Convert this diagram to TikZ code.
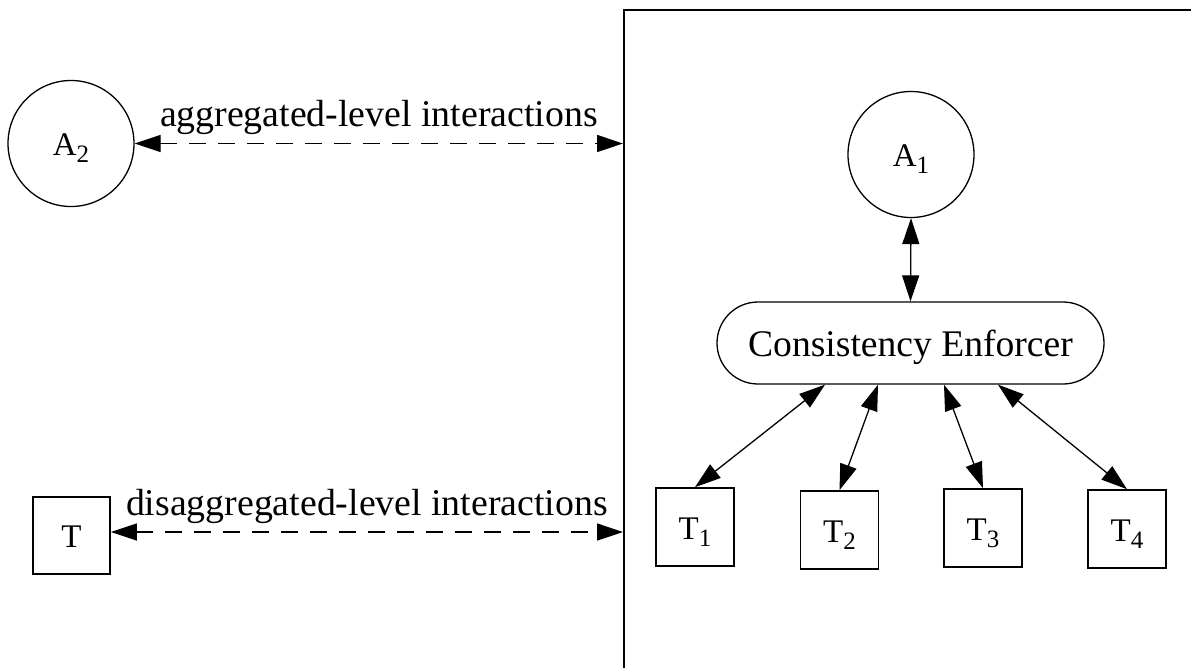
\documentclass[tikz,border=0pt]{standalone}
\usepackage{fontspec}
\setmainfont{Liberation Serif}
\usetikzlibrary{arrows.meta,calc}
\newcommand{\lsub}[1]{\raisebox{-7pt}{\fontsize{25}{25}\selectfont #1}}
\begin{document}
\begin{tikzpicture}[x=1pt,y=-1pt,
  >={Triangle[length=26pt,width=17pt]},
  agent/.style={draw, circle, minimum size=126pt, inner sep=0pt, line width=1.3pt,
    font=\fontsize{33}{36}\selectfont, text height=24pt, text depth=0pt},
  task/.style={draw, rectangle, minimum width=78pt, minimum height=78pt, inner sep=0pt,
    line width=1.6pt, font=\fontsize{33}{36}\selectfont, text height=24pt, text depth=0pt},
  enforcer/.style={draw, rectangle, rounded corners=41pt, minimum width=387pt, minimum height=82pt,
    inner sep=0pt, line width=1.3pt, font=\fontsize{37.6}{44}\selectfont, text height=26pt, text depth=0pt},
  frame/.style={draw, rectangle, line width=1.8pt, minimum width=640pt, minimum height=700pt,
    inner sep=0pt, anchor=north west},
  link/.style={<->, line width=1.3pt},
  dlink/.style={link, dash pattern=on 17pt off 12pt},
  lbl/.style={font=\fontsize{37.8}{44}\selectfont, anchor=base, inner sep=0pt}
]
\path[use as bounding box] (0,0) rectangle (1191,667);
\clip (0,0) rectangle (1191,667);

\node[frame] (frame) at (623,9) {};
\node[agent] (a2) at (71,143.5) {A\lsub{2}};
\node[task, minimum width=77pt, minimum height=77pt] (t) at (71.5,535.5) {T};

\node[agent] (a1) at (911,154.5) {A\lsub{1}};
\node[enforcer] (ce) at (910.5,343) {Consistency Enforcer};
\node[task] (t1) at (695,527) {T\lsub{1}};
\node[task] (t2) at (839.5,530) {T\lsub{2}};
\node[task] (t3) at (983,528) {T\lsub{3}};
\node[task] (t4) at (1127,529) {T\lsub{4}};

\draw[dlink] (a2.east) -- (a2.east -| frame.west)
  node[lbl, midway, yshift=17.5pt] {aggregated-level interactions};
\coordinate (tp) at ([yshift=3.5pt]t.east);
\draw[dlink] (tp) -- (tp -| frame.west)
  node[lbl, midway, yshift=17pt] {disaggregated-level interactions};

\draw[link] (a1.south) -- (ce.north);
\draw[link] ($(ce.south)+(-85.5,0)$) -- (t1.north);
\draw[link] ($(ce.south)+(-32.5,0)$) -- (t2.north);
\draw[link] ($(ce.south)+(33.5,0)$) -- (t3.north);
\draw[link] ($(ce.south)+(87.5,0)$) -- (t4.north);
\end{tikzpicture}
\end{document}
